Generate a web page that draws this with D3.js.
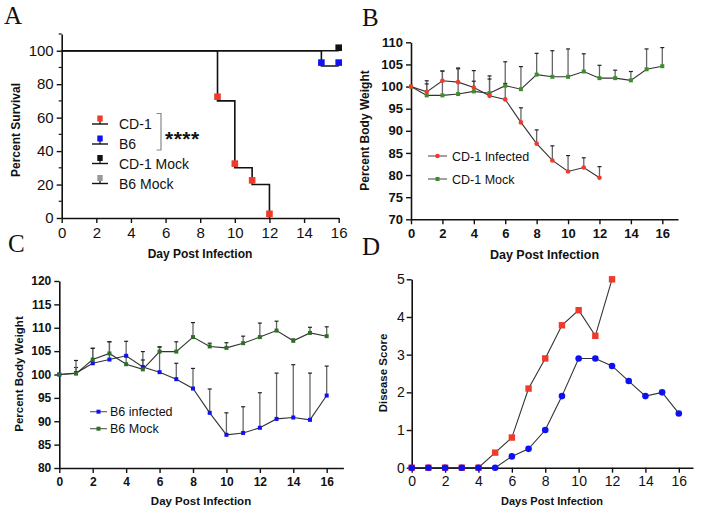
<!DOCTYPE html>
<html><head><meta charset="utf-8">
<script src="https://cdn.jsdelivr.net/npm/d3@7"></script>
<style>
body{margin:0;background:#fff}
svg{display:block}
text{font-family:"Liberation Sans",Arial,sans-serif;fill:#111}
</style></head>
<body><svg id="c" width="701" height="513"></svg>
<script>
// ---------- DATA ----------
// Panel A: survival (%)
const survCD1Days = [0, 9, 10, 11, 12];
const survCD1 = [100, 70, 30, 20, 0];
const survB6Days = [0, 15, 16];
const survB6 = [100, 90.9, 90.9];
const survMockDays = [0, 16];
const survMock = [100, 100];
const markCD1Days = [9, 10, 11, 12];
const markCD1 = [72.5, 32.5, 22.5, 2.5];
const markB6Days = [15, 16];
const markB6 = [92.9, 92.9];
const markMockDays = [16];
const markMock = [101.8];
const legendA = ["CD-1", "B6", "CD-1 Mock", "B6 Mock"];

// Panel B: CD-1 body weight (%)
const daysB1 = [0,1,2,3,4,5,6,7,8,9,10,11,12];
const wtCD1Inf = [100,98.8,101.3,101.0,99.8,97.9,97.1,91.9,87.1,83.3,80.8,81.7,79.4];
const errCD1Inf = [null,100.6,103.5,104.2,101.2,101.7,100.7,95.2,90.2,86.6,84.4,83.9,81.9];
const daysB2 = [0,1,2,3,4,5,6,7,8,9,10,11,12,13,14,15,16];
const wtCD1Mock = [100,98.0,98.0,98.3,98.9,98.5,100.2,99.4,102.7,102.2,102.2,103.4,101.9,101.9,101.4,103.9,104.6];
const errCD1Mock = [null,101.3,103.5,104.0,103.6,102.4,105.6,104.5,107.5,108.1,108.5,107.4,104.8,103.7,103.4,108.5,108.8];

// Panel C: B6 body weight (%)
const daysC = [0,1,2,3,4,5,6,7,8,9,10,11,12,13,14,15,16];
const wtB6Inf = [100,100.3,102.4,103.2,104.0,101.6,100.5,99.0,97.0,91.8,87.1,87.5,88.6,90.5,90.8,90.3,95.5];
const errB6Inf = [null,101.5,105.6,107.0,107.1,104.9,105.9,102.4,101.3,96.9,91.8,93.1,96.1,100.3,102.1,100.3,101.8];
const wtB6Mock = [100,100.2,103.2,104.5,102.2,101.1,104.9,104.9,108.0,106.0,105.7,106.7,108.0,109.4,107.2,108.9,108.2];
const errB6Mock = [null,103.0,105.6,107.0,104.0,103.1,105.9,107.0,111.1,106.7,106.8,108.2,111.0,111.4,107.6,110.1,110.2];

// Panel D: disease score
const daysD1 = [0,1,2,3,4,5,6,7,8,9,10,11,12];
const scoreCD1 = [0,0,0,0,0,0.4,0.8,2.1,2.9,3.78,4.18,3.5,5.0];
const daysD2 = [0,1,2,3,4,5,6,7,8,9,10,11,12,13,14,15,16];
const scoreB6 = [0,0,0,0,0,0,0.3,0.5,1.0,1.9,2.9,2.9,2.7,2.3,1.9,2.0,1.44];

const xTicks = [0,2,4,6,8,10,12,14,16];
const yTicksA = [0,20,40,60,80,100];
const yMinorA = [10,30,50,70,90,110];
const yTicksB = [70,75,80,85,90,95,100,105,110];
const yTicksC = [80,85,90,95,100,105,110,115,120];
const yTicksD = [0,1,2,3,4,5];

// ---------- COLORS ----------
const RED = "#ee3b2c", BLUE = "#1010f5", GREENB = "#3d8f2a", GREENC = "#2f6e25", LINE = "#333";

const svg = d3.select("#c");
const fmt = d3.format("d");

function axes(g, x, y, o) {
  const ax = g.append("g").attr("transform", `translate(0,${y.range()[0]})`)
    .call(d3.axisBottom(x).tickValues(o.xt).tickFormat(fmt).tickSize(5).tickPadding(o.xpad).tickSizeOuter(0));
  const ay = g.append("g").attr("transform", `translate(${x.range()[0]},0)`)
    .call(d3.axisLeft(y).tickValues(o.yt).tickFormat(fmt).tickSize(5).tickPadding(o.ypad).tickSizeOuter(0));
  [ax, ay].forEach(a => {
    a.select(".domain").attr("stroke", "#111").attr("stroke-width", 1.6);
    a.selectAll(".tick line").attr("stroke", "#111").attr("stroke-width", 1.4);
    a.selectAll(".tick text").attr("font-family", "Liberation Sans, Arial, sans-serif")
      .attr("font-size", o.fs).attr("font-weight", o.fw).attr("fill", "#111");
  });
  return [ax, ay];
}

function title(g, txt, x, y, fs, rot) {
  g.append("text").attr("x", x).attr("y", y).attr("text-anchor", "middle")
    .attr("font-size", fs).attr("font-weight", "bold")
    .attr("transform", rot ? `rotate(-90,${x},${y})` : null).text(txt);
}

function letter(t, x, y) {
  svg.append("text").attr("x", x).attr("y", y)
    .attr("font-size", 25).style("font-family", "Liberation Serif, 'Times New Roman', serif").text(t);
}

// ---------- PANEL A ----------
{
  const g = svg.append("g");
  const x = d3.scaleLinear().domain([0, 16]).range([61.7, 338.7]);
  const y = d3.scaleLinear().domain([0, 110]).range([218, 34]);
  const [ax, ay] = axes(g, x, y, {xt: xTicks, yt: yTicksA, fs: 15, fw: "normal", xpad: 4, ypad: 3});
  ay.selectAll(".minor").data(yMinorA).enter().append("line")
    .attr("x1", -3).attr("x2", 0).attr("y1", d => y(d)).attr("y2", d => y(d))
    .attr("stroke", "#111").attr("stroke-width", 1.2);
  const step = d3.line().curve(d3.curveStepAfter).x(d => x(d[0])).y(d => y(d[1]));
  g.append("path").datum(survCD1Days.map((d, i) => [d, survCD1[i]]))
    .attr("d", step).attr("fill", "none").attr("stroke", "#111").attr("stroke-width", 1.6);
  g.append("path").datum(survB6Days.map((d, i) => [d, survB6[i]]))
    .attr("d", step).attr("fill", "none").attr("stroke", "#111").attr("stroke-width", 1.6);
  g.append("path").datum(survMockDays.map((d, i) => [d, survMock[i]]))
    .attr("d", step).attr("fill", "none").attr("stroke", "#111").attr("stroke-width", 1.6);
  const sq = (days, vals, col) => g.selectAll(null).data(days.map((d, i) => [d, vals[i]])).enter()
    .append("rect").attr("x", d => x(d[0]) - 3.3).attr("y", d => y(d[1]) - 3.3)
    .attr("width", 6.6).attr("height", 6.6).attr("fill", col);
  sq(markCD1Days, markCD1, RED);
  sq(markB6Days, markB6, BLUE);
  sq(markMockDays, markMock, "#111");
  // legend
  const cols = [RED, BLUE, "#111", "#999"];
  const ly = [124, 144, 163.5, 183.5];
  legendA.forEach((t, i) => {
    g.append("line").attr("x1", 92).attr("x2", 108).attr("y1", ly[i]).attr("y2", ly[i])
      .attr("stroke", "#111").attr("stroke-width", 1.4);
    g.append("line").attr("x1", 100).attr("x2", 100).attr("y1", ly[i] - 3).attr("y2", ly[i])
      .attr("stroke", "#111").attr("stroke-width", 1.2);
    g.append("rect").attr("x", 97.3).attr("y", ly[i] - 8.5).attr("width", 5.4).attr("height", 6)
      .attr("fill", cols[i]);
    g.append("text").attr("x", 119).attr("y", ly[i] + 5).attr("font-size", 14).text(t);
  });
  g.append("path").attr("d", "M156.5,113.5H161V150H156.5").attr("fill", "none")
    .attr("stroke", "#888").attr("stroke-width", 1.2);
  g.append("text").attr("x", 165).attr("y", 146).attr("font-size", 21).attr("font-weight", "bold")
    .attr("letter-spacing", 0.5).text("****");
  title(g, "Percent Survival", 20, 130, 12, true);
  title(g, "Day Post Infection", 200, 258, 12, false);
}

// error bars
function series(g, x, y, days, vals, errs) {
  const pts = days.map((d, i) => ({d, v: vals[i], e: errs ? errs[i] : null}));
  if (errs) {
    const eb = pts.filter(p => p.e != null);
    g.selectAll(null).data(eb).enter().append("line")
      .attr("x1", p => x(p.d)).attr("x2", p => x(p.d)).attr("y1", p => y(p.v)).attr("y2", p => y(p.e))
      .attr("stroke", "#666").attr("stroke-width", 1.3);
    g.selectAll(null).data(eb).enter().append("line")
      .attr("x1", p => x(p.d) - 2).attr("x2", p => x(p.d) + 2).attr("y1", p => y(p.e)).attr("y2", p => y(p.e))
      .attr("stroke", "#222").attr("stroke-width", 1.2);
  }
  return pts;
}
function lineMarks(g, x, y, pts, col, shape, size, lw) {
  g.append("path").datum(pts).attr("d", d3.line().x(p => x(p.d)).y(p => y(p.v)))
    .attr("fill", "none").attr("stroke", LINE).attr("stroke-width", lw);
  if (shape === "circle") {
    g.selectAll(null).data(pts).enter().append("circle").attr("cx", p => x(p.d)).attr("cy", p => y(p.v))
      .attr("r", size / 2).attr("fill", col);
  } else {
    g.selectAll(null).data(pts).enter().append("rect").attr("x", p => x(p.d) - size / 2).attr("y", p => y(p.v) - size / 2)
      .attr("width", size).attr("height", size).attr("fill", col);
  }
}

// ---------- PANEL B ----------
{
  const g = svg.append("g");
  const x = d3.scaleLinear().domain([0, 17]).range([411, 678]);
  const y = d3.scaleLinear().domain([70, 110]).range([219.3, 42.3]);
  axes(g, x, y, {xt: xTicks, yt: yTicksB, fs: 13, fw: "bold", xpad: 4, ypad: 3});
  const p2 = series(g, x, y, daysB2, wtCD1Mock, errCD1Mock);
  const p1 = series(g, x, y, daysB1, wtCD1Inf, errCD1Inf);
  lineMarks(g, x, y, p2, GREENB, "rect", 4, 1.1);
  lineMarks(g, x, y, p1, RED, "circle", 4.6, 1.1);
  [["CD-1 Infected", RED, "circle", 156], ["CD-1 Mock", GREENB, "rect", 179]].forEach(([t, c, s, yy]) => {
    g.append("line").attr("x1", 428).attr("x2", 447).attr("y1", yy).attr("y2", yy).attr("stroke", "#555").attr("stroke-width", 1.1);
    if (s === "circle") g.append("circle").attr("cx", 437.5).attr("cy", yy).attr("r", 2.3).attr("fill", c);
    else g.append("rect").attr("x", 435.5).attr("y", yy - 2).attr("width", 4).attr("height", 4).attr("fill", c);
    g.append("text").attr("x", 452).attr("y", yy + 4.5).attr("font-size", 12.5).text(t);
  });
  title(g, "Percent Body Weight", 369, 130.5, 12, true);
  title(g, "Day Post Infection", 544.5, 259, 12.5, false);
}

// ---------- PANEL C ----------
{
  const g = svg.append("g");
  const x = d3.scaleLinear().domain([0, 17]).range([59.3, 343.4]);
  const y = d3.scaleLinear().domain([80, 120]).range([468, 281]);
  axes(g, x, y, {xt: xTicks, yt: yTicksC, fs: 12, fw: "bold", xpad: 4, ypad: 3});
  const p1 = series(g, x, y, daysC, wtB6Inf, errB6Inf);
  const p2 = series(g, x, y, daysC, wtB6Mock, errB6Mock);
  lineMarks(g, x, y, p1, BLUE, "rect", 4, 1.1);
  lineMarks(g, x, y, p2, GREENC, "rect", 4, 1.1);
  [["B6 infected", BLUE, 411.7], ["B6 Mock", GREENC, 428.7]].forEach(([t, c, yy]) => {
    g.append("line").attr("x1", 90).attr("x2", 107).attr("y1", yy).attr("y2", yy).attr("stroke", "#555").attr("stroke-width", 1.1);
    g.append("rect").attr("x", 96.5).attr("y", yy - 2).attr("width", 4).attr("height", 4).attr("fill", c);
    g.append("text").attr("x", 110).attr("y", yy + 4.5).attr("font-size", 12.5).text(t);
  });
  title(g, "Percent Body Weight", 23, 374, 11.5, true);
  title(g, "Day Post Infection", 201, 505, 11.5, false);
}

// ---------- PANEL D ----------
{
  const g = svg.append("g");
  const x = d3.scaleLinear().domain([0, 16.85]).range([411.7, 693]);
  const y = d3.scaleLinear().domain([0, 5]).range([467.7, 279.3]);
  axes(g, x, y, {xt: xTicks, yt: yTicksD, fs: 14, fw: "normal", xpad: 3, ypad: 2});
  const p1 = series(g, x, y, daysD1, scoreCD1, null);
  const p2 = series(g, x, y, daysD2, scoreB6, null);
  lineMarks(g, x, y, p1, RED, "rect", 6.4, 1.1);
  lineMarks(g, x, y, p2, BLUE, "circle", 6.6, 1.1);
  title(g, "Disease Score", 387, 373, 11.5, true);
  title(g, "Days Post Infection", 552, 505, 11, false);
}

letter("A", 4, 24);
letter("B", 362, 26);
letter("C", 8, 252);
letter("D", 362, 255);
</script></body></html>
